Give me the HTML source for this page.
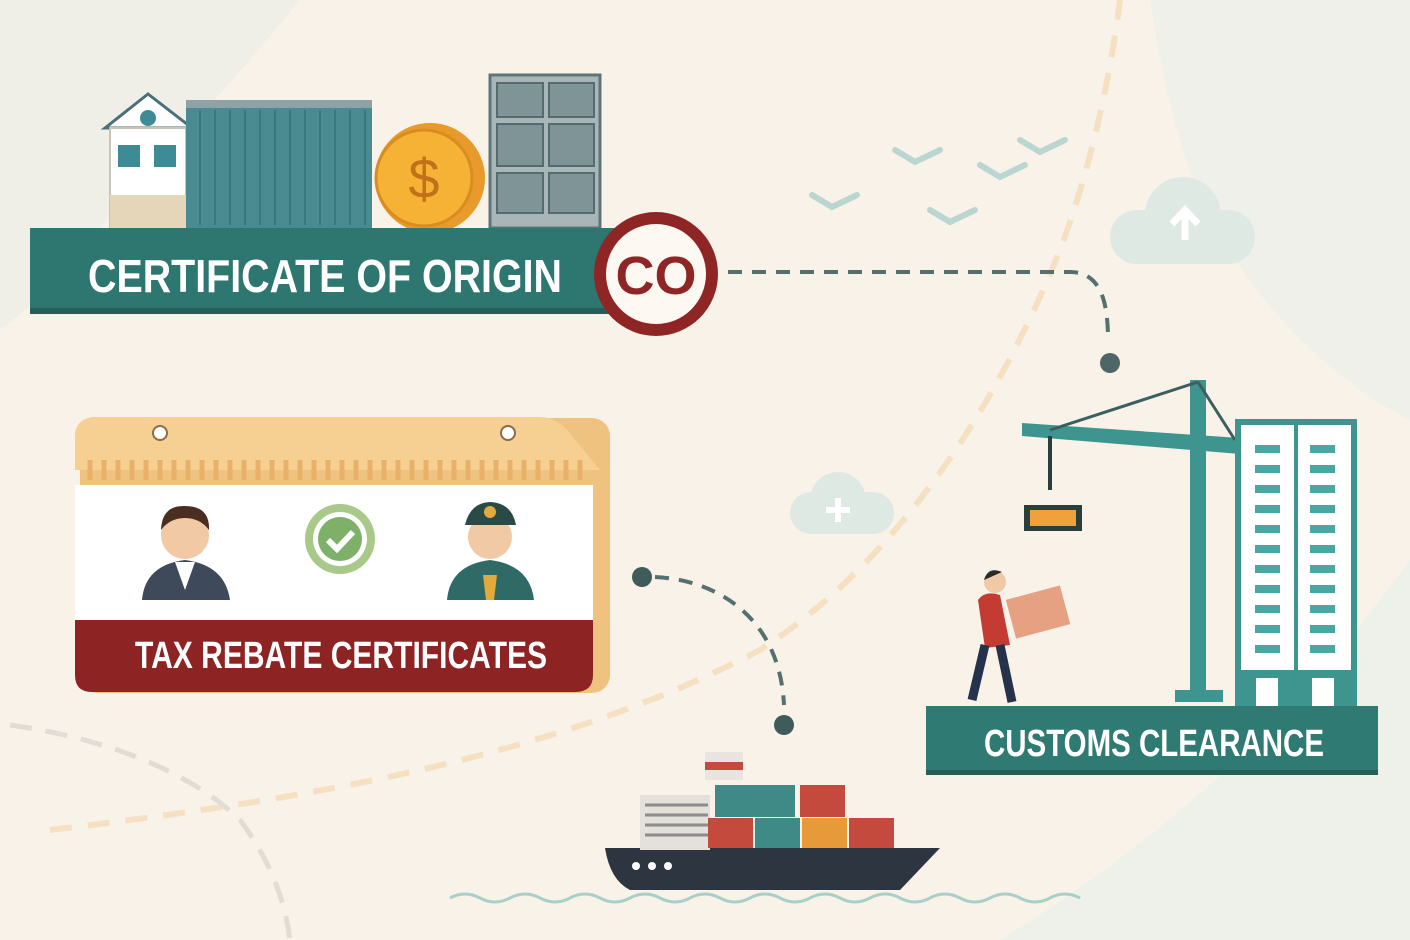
<!DOCTYPE html>
<html><head><meta charset="utf-8"><style>
html,body{margin:0;padding:0;width:1410px;height:940px;overflow:hidden;background:#f7f1e7}
svg{display:block}
text{font-family:"Liberation Sans Narrow","Liberation Sans",sans-serif;font-weight:bold}
</style></head><body>
<svg width="1410" height="940" viewBox="0 0 1410 940" xmlns="http://www.w3.org/2000/svg">
<rect width="1410" height="940" fill="#f8f2e9"/>
<path d="M0 0 H300 C250 60 200 120 120 200 C80 260 40 300 0 330 Z" fill="#ebeee7" opacity="0.7"/>
<path d="M1150 0 H1410 V420 C1330 380 1250 300 1200 200 C1170 120 1160 60 1150 0Z" fill="#edf0ea" opacity="0.7"/>
<path d="M1410 560 V940 H1000 C1100 880 1200 800 1300 700 C1350 640 1380 600 1410 560Z" fill="#e9efea" opacity="0.7"/>
<path d="M50 830 C300 800 550 760 760 650 C900 560 1000 400 1060 250 C1090 170 1110 80 1120 0" fill="none" stroke="#f5e0c2" stroke-width="6" stroke-dasharray="22 16"/>
<path d="M10 725 C120 740 200 780 240 820 C270 860 285 900 290 940" fill="none" stroke="#e2ddd4" stroke-width="5" stroke-dasharray="22 14"/>
<g fill="none" stroke="#b9d6d1" stroke-width="6" stroke-linecap="round">
<path d="M895 150 l20 12 l25 -12"/><path d="M980 165 l20 12 l25 -12"/><path d="M1020 140 l20 12 l25 -12"/>
<path d="M812 195 l20 12 l25 -12"/><path d="M930 210 l20 12 l25 -12"/>
</g>
<g fill="#dfe9e4">
<rect x="1110" y="210" width="145" height="54" rx="27"/><circle cx="1183" cy="215" r="38"/>
<rect x="790" y="492" width="104" height="42" rx="21"/><circle cx="838" cy="500" r="28"/>
</g>
<path d="M1185 240 V212 M1172 224 L1185 210 L1198 224" stroke="#fff" stroke-width="7" fill="none"/>
<path d="M838 498 V522 M826 510 H850" stroke="#fff" stroke-width="6"/>
<polygon points="105,128 148,94 192,128" fill="#fff" stroke="#4b6f7a" stroke-width="3"/>
<rect x="110" y="128" width="76" height="100" fill="#fff" stroke="#c9c3b8" stroke-width="2"/>
<rect x="118" y="145" width="22" height="22" fill="#3d8b94"/><rect x="154" y="145" width="22" height="22" fill="#3d8b94"/>
<rect x="110" y="195" width="76" height="33" fill="#e6d6b9"/>
<circle cx="148" cy="118" r="8" fill="#3d8b94"/>
<rect x="186" y="102" width="186" height="126" fill="#4a8b92"/>
<g stroke="#3a7880" stroke-width="2">
<path d="M200 110V225M215 110V225M230 110V225M245 110V225M260 110V225M275 110V225M290 110V225M305 110V225M320 110V225M335 110V225M350 110V225M365 110V225"/></g>
<rect x="186" y="100" width="186" height="8" fill="#8fa3a6"/>
<circle cx="430" cy="178" r="55" fill="#e89b2a"/>
<circle cx="424" cy="178" r="48" fill="#f5b234" stroke="#d98d1f" stroke-width="3"/>
<text x="424" y="198" font-size="56" fill="#c0711a" text-anchor="middle" style="font-weight:normal">$</text>
<rect x="490" y="75" width="110" height="153" fill="#a9b6b8" stroke="#5f7478" stroke-width="3"/>
<g fill="#7f9497" stroke="#566b6f" stroke-width="2">
<rect x="497" y="83" width="46" height="34"/><rect x="549" y="83" width="45" height="34"/>
<rect x="497" y="124" width="46" height="42"/><rect x="549" y="124" width="45" height="42"/>
<rect x="497" y="173" width="46" height="40"/><rect x="549" y="173" width="45" height="40"/>
</g>
<rect x="30" y="228" width="600" height="86" fill="#2e7771"/>
<rect x="30" y="308" width="600" height="6" fill="#235f5a"/>
<text x="88" y="292" font-size="46" fill="#fff" textLength="474" lengthAdjust="spacingAndGlyphs">CERTIFICATE OF ORIGIN</text>
<circle cx="656" cy="274" r="62" fill="#8f2626"/>
<circle cx="656" cy="274" r="50" fill="#fdf8f2"/>
<text x="656" y="294" font-size="54" fill="#8f2626" text-anchor="middle">CO</text>
<path d="M728 272 H1070 C1100 272 1108 300 1108 340" fill="none" stroke="#55706f" stroke-width="4" stroke-dasharray="14 10"/>
<circle cx="1110" cy="363" r="10" fill="#4f6666"/>
<rect x="80" y="418" width="530" height="275" rx="18" fill="#efc37f"/>
<path d="M75 470 L75 436 Q75 420 92 417 L540 417 Q560 417 575 440 L600 470 Z" fill="#f6cf93"/>
<g stroke="#e9b06a" stroke-width="5">
<path d="M90 460V480M104 460V480M118 460V480M132 460V480M146 460V480M160 460V480M174 460V480M188 460V480M202 460V480M216 460V480M230 460V480M244 460V480M258 460V480M272 460V480M286 460V480M300 460V480M314 460V480M328 460V480M342 460V480M356 460V480M370 460V480M384 460V480M398 460V480M412 460V480M426 460V480M440 460V480M454 460V480M468 460V480M482 460V480M496 460V480M510 460V480M524 460V480M538 460V480M552 460V480M566 460V480M580 460V480"/></g>
<circle cx="160" cy="433" r="7" fill="#fff" stroke="#8d6a4a" stroke-width="2"/>
<circle cx="508" cy="433" r="7" fill="#fff" stroke="#8d6a4a" stroke-width="2"/>
<rect x="75" y="485" width="518" height="140" fill="#fff"/>
<path d="M75 620 H593 V675 Q593 692 575 692 H92 Q75 692 75 675 Z" fill="#8e2323"/>
<text x="341" y="668" font-size="38" fill="#fff" text-anchor="middle" textLength="412" lengthAdjust="spacingAndGlyphs">TAX REBATE CERTIFICATES</text>
<path d="M142 600 Q145 565 185 560 Q225 565 230 600 Z" fill="#3e4a5a"/>
<path d="M175 562 L185 590 L195 562Z" fill="#fff"/>
<circle cx="185" cy="535" r="24" fill="#f1c9a5"/>
<path d="M161 530 Q162 505 185 506 Q210 506 209 530 Q200 518 185 518 Q170 518 161 530Z" fill="#4a2e22"/>
<circle cx="340" cy="539" r="35" fill="#a8c98a"/>
<circle cx="340" cy="539" r="27" fill="#fff"/>
<circle cx="340" cy="539" r="22" fill="#7fb06a"/>
<path d="M328 540 l9 9 l16 -17" stroke="#fff" stroke-width="6" fill="none"/>
<path d="M447 600 Q450 565 490 560 Q530 565 534 600 Z" fill="#2f6a66"/>
<path d="M483 575 h14 l-3 25 h-8z" fill="#e2a93b"/>
<circle cx="490" cy="537" r="22" fill="#f1c9a5"/>
<path d="M465 525 Q470 503 490 502 Q512 503 516 525Z" fill="#2a4a47"/>
<circle cx="490" cy="512" r="6" fill="#e2a93b"/>
<circle cx="642" cy="577" r="10" fill="#3f5b5a"/>
<path d="M655 577 C720 580 780 620 784 705" fill="none" stroke="#55706f" stroke-width="4" stroke-dasharray="14 10"/>
<circle cx="784" cy="725" r="10" fill="#3f5b5a"/>
<path d="M605 848 H940 L900 890 H630 Q610 880 605 848Z" fill="#2c3540"/>
<circle cx="636" cy="866" r="4" fill="#fff"/><circle cx="652" cy="866" r="4" fill="#fff"/><circle cx="668" cy="866" r="4" fill="#fff"/>
<rect x="640" y="795" width="70" height="55" fill="#e4e1dc"/>
<g stroke="#8c8c8c" stroke-width="3"><path d="M645 805H708M645 815H708M645 825H708M645 835H708"/></g>
<rect x="705" y="752" width="38" height="28" fill="#e9e4e0"/><rect x="705" y="762" width="38" height="8" fill="#c24a3f"/>
<rect x="715" y="785" width="80" height="32" fill="#3f8a87"/>
<rect x="800" y="785" width="45" height="32" fill="#c44a3d"/>
<rect x="708" y="818" width="45" height="30" fill="#c44a3d"/>
<rect x="755" y="818" width="45" height="30" fill="#3f8a87"/>
<rect x="802" y="818" width="45" height="30" fill="#e69a3a"/>
<rect x="849" y="818" width="45" height="30" fill="#c44a3d"/>
<path d="M450 898 q15 -8 30 0 t30 0 t30 0 t30 0 t30 0 t30 0 t30 0 t30 0 t30 0 t30 0 t30 0 t30 0 t30 0 t30 0 t30 0 t30 0 t30 0 t30 0 t30 0 t30 0 t30 0" fill="none" stroke="#a9cfc9" stroke-width="3"/>
<rect x="1190" y="380" width="16" height="318" fill="#3e948e"/>
<rect x="1175" y="690" width="48" height="12" fill="#3e948e"/>
<path d="M1022 423 L1240 438 L1240 454 L1022 436Z" fill="#3e948e"/>
<path d="M1050 430 L1198 382 M1198 382 L1235 440" stroke="#3b5f5f" stroke-width="3" fill="none"/>
<path d="M1050 436 V490" stroke="#2b3e3e" stroke-width="4"/>
<rect x="1024" y="505" width="58" height="26" fill="#2b3e3e"/><rect x="1030" y="510" width="46" height="16" fill="#f0a13a"/>
<rect x="1238" y="422" width="116" height="285" fill="#fff" stroke="#3e948e" stroke-width="6"/>
<rect x="1294" y="425" width="4" height="280" fill="#3e948e"/>
<g fill="#4aa6a3">
<rect x="1255" y="445" width="25" height="8"/><rect x="1255" y="465" width="25" height="8"/><rect x="1255" y="485" width="25" height="8"/><rect x="1255" y="505" width="25" height="8"/><rect x="1255" y="525" width="25" height="8"/><rect x="1255" y="545" width="25" height="8"/><rect x="1255" y="565" width="25" height="8"/><rect x="1255" y="585" width="25" height="8"/><rect x="1255" y="605" width="25" height="8"/><rect x="1255" y="625" width="25" height="8"/><rect x="1255" y="645" width="25" height="8"/>
<rect x="1310" y="445" width="25" height="8"/><rect x="1310" y="465" width="25" height="8"/><rect x="1310" y="485" width="25" height="8"/><rect x="1310" y="505" width="25" height="8"/><rect x="1310" y="525" width="25" height="8"/><rect x="1310" y="545" width="25" height="8"/><rect x="1310" y="565" width="25" height="8"/><rect x="1310" y="585" width="25" height="8"/><rect x="1310" y="605" width="25" height="8"/><rect x="1310" y="625" width="25" height="8"/><rect x="1310" y="645" width="25" height="8"/>
</g>
<rect x="1238" y="670" width="116" height="37" fill="#3e948e"/>
<rect x="1256" y="678" width="22" height="28" fill="#fff"/><rect x="1312" y="678" width="22" height="28" fill="#fff"/>
<circle cx="995" cy="582" r="11" fill="#f1c9a5"/>
<path d="M984 580 Q988 566 1002 572Z" fill="#2a2a2a"/>
<path d="M978 600 Q985 590 1000 595 L1010 645 L985 648Z" fill="#c33b32"/>
<path d="M985 645 L972 700 M1000 645 L1012 702" stroke="#25324a" stroke-width="9"/>
<rect x="1010" y="592" width="56" height="40" fill="#e6a183" transform="rotate(-15 1038 612)"/>
<rect x="926" y="706" width="452" height="69" fill="#2f7a73"/>
<rect x="926" y="770" width="452" height="5" fill="#245f5a"/>
<text x="1154" y="756" font-size="38" fill="#fff" text-anchor="middle" textLength="340" lengthAdjust="spacingAndGlyphs">CUSTOMS CLEARANCE</text>
</svg>
</body></html>
